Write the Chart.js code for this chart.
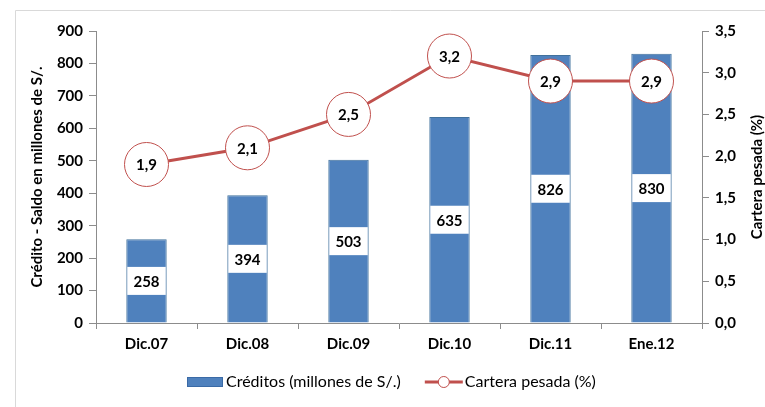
<!DOCTYPE html>
<html>
<head>
<meta charset="utf-8">
<style>
  html, body { margin: 0; padding: 0; background: #fff; }
  #wrap { width: 765px; height: 407px; }
</style>
</head>
<body>
<div id="wrap"><canvas id="myChart" width="765" height="407"></canvas></div>
<script src="https://cdn.jsdelivr.net/npm/chart.js"></script>
<script>
const labels = ["Dic.07", "Dic.08", "Dic.09", "Dic.10", "Dic.11", "Ene.12"];
const creditos = [258, 394, 503, 635, 826, 830];
const cartera = [1.9, 2.1, 2.5, 3.2, 2.9, 2.9];

const FONT = "Lato, 'Open Sans', sans-serif";
const BLUE = "#4F81BD";
const RED = "#C0504D";
const AXIS = "#8c8c8c";

const fmtComma = (v) => v.toFixed(1).replace(".", ",");

// value boxes on bars, numbers inside circles, frame, right title and legend
const labelsPlugin = {
  id: "labels",
  beforeDraw(chart) {
    const ctx = chart.ctx;
    ctx.save();
    ctx.strokeStyle = "#d9d9d9";
    ctx.lineWidth = 1;
    ctx.beginPath();
    ctx.moveTo(15.5, 420);
    ctx.lineTo(15.5, 10.5);
    ctx.lineTo(780, 10.5);
    ctx.stroke();
    ctx.restore();
  },
  afterDatasetDraw(chart, args) {
    const ctx = chart.ctx;
    const ds = chart.data.datasets[args.index];
    const meta = args.meta;
    ctx.save();
    ctx.font = "bold 15px " + FONT;
    ctx.textAlign = "center";
    ctx.textBaseline = "middle";
    if (ds.type === "bar") {
      meta.data.forEach((bar, i) => {
        const w = bar.width;
        const cy = (bar.y + bar.base) / 2;
        ctx.fillStyle = "#fff";
        ctx.fillRect(bar.x - w / 2 + 1, cy - 14, w - 2, 28);
        ctx.fillStyle = "#000";
        ctx.fillText(String(ds.data[i]), bar.x, cy + 1);
      });
    } else {
      meta.data.forEach((pt, i) => {
        ctx.fillStyle = "#000";
        ctx.fillText(fmtComma(ds.data[i]), pt.x, pt.y + 1);
      });
    }
    ctx.restore();
  },
  afterDraw(chart) {
    const ctx = chart.ctx;
    const area = chart.chartArea;
    const barDs = chart.data.datasets.find((d) => d.type === "bar");
    const lineDs = chart.data.datasets.find((d) => d.type === "line");

    // right axis title, reading bottom to top
    ctx.save();
    ctx.translate(757, (area.top + area.bottom) / 2);
    ctx.rotate(-Math.PI / 2);
    ctx.font = "bold 15px " + FONT;
    ctx.fillStyle = "#000";
    ctx.textAlign = "center";
    ctx.textBaseline = "middle";
    ctx.fillText(lineDs.label, 0, 0);
    ctx.restore();

    const y = 382;
    ctx.save();
    ctx.font = "16px " + FONT;
    ctx.textBaseline = "middle";
    ctx.textAlign = "left";
    const w1 = ctx.measureText(barDs.label).width;
    let x = 187;
    ctx.fillStyle = BLUE;
    ctx.fillRect(x, y - 5, 36, 10);
    ctx.strokeStyle = "#3a6aa6";
    ctx.strokeRect(x + 0.5, y - 4.5, 35, 9);
    x += 39;
    ctx.fillStyle = "#000";
    ctx.fillText(barDs.label, x, y);
    x += w1 + 24;
    ctx.strokeStyle = RED;
    ctx.lineWidth = 3;
    ctx.beginPath();
    ctx.moveTo(x, y);
    ctx.lineTo(x + 38, y);
    ctx.stroke();
    ctx.beginPath();
    ctx.arc(x + 19, y, 5.5, 0, Math.PI * 2);
    ctx.fillStyle = "#fff";
    ctx.fill();
    ctx.lineWidth = 1;
    ctx.stroke();
    x += 40;
    ctx.fillStyle = "#000";
    ctx.fillText(lineDs.label, x, y);
    ctx.restore();
  }
};

const data = {
  labels: labels,
  datasets: [
    {
      type: "line",
      label: "Cartera pesada (%)",
      data: cartera,
      yAxisID: "y1",
      order: 0,
      borderColor: RED,
      borderWidth: 3,
      pointRadius: 22,
      pointHoverRadius: 22,
      pointBackgroundColor: "#fff",
      pointBorderColor: RED,
      pointBorderWidth: 1,
      tension: 0
    },
    {
      type: "bar",
      label: "Créditos (millones de S/.)",
      data: creditos,
      yAxisID: "y",
      order: 1,
      backgroundColor: BLUE,
      borderColor: "#41719c",
      borderWidth: 1,
      barPercentage: 0.4,
      categoryPercentage: 1
    }
  ]
};

const tickFont = { family: FONT, weight: "bold", size: 15 };

new Chart(document.getElementById("myChart"), {
  data,
  plugins: [labelsPlugin],
  options: {
    responsive: false,
    animation: false,
    events: [],
    layout: { padding: { top: 31, left: 0, right: 0, bottom: 0 } },
    plugins: { legend: { display: false }, tooltip: { enabled: false } },
    scales: {
      x: {
        offset: true,
        grid: { offset: true, drawOnChartArea: false, tickLength: 6, color: AXIS },
        border: { color: AXIS },
        ticks: { font: tickFont, color: "#000", padding: 6 },
        afterFit: (s) => { s.height = 84; }
      },
      y: {
        position: "left",
        min: 0,
        max: 900,
        ticks: { stepSize: 100, font: tickFont, color: "#000", padding: 6 },
        grid: { drawOnChartArea: false, tickLength: 7, color: AXIS },
        border: { color: AXIS },
        title: {
          display: true,
          text: "Crédito - Saldo en millones de S/.",
          font: { family: FONT, weight: "bold", size: 15 },
          color: "#000",
          padding: { top: 28, bottom: 0 }
        },
        afterFit: (s) => { s.width = 96; }
      },
      y1: {
        position: "right",
        min: 0,
        max: 3.5,
        ticks: { stepSize: 0.5, font: tickFont, color: "#000", padding: 6, callback: (v) => fmtComma(v) },
        grid: { drawOnChartArea: false, tickLength: 7, color: AXIS },
        border: { color: AXIS },
        afterFit: (s) => { s.width = 63; }
      }
    }
  }
});
</script>
</body>
</html>
